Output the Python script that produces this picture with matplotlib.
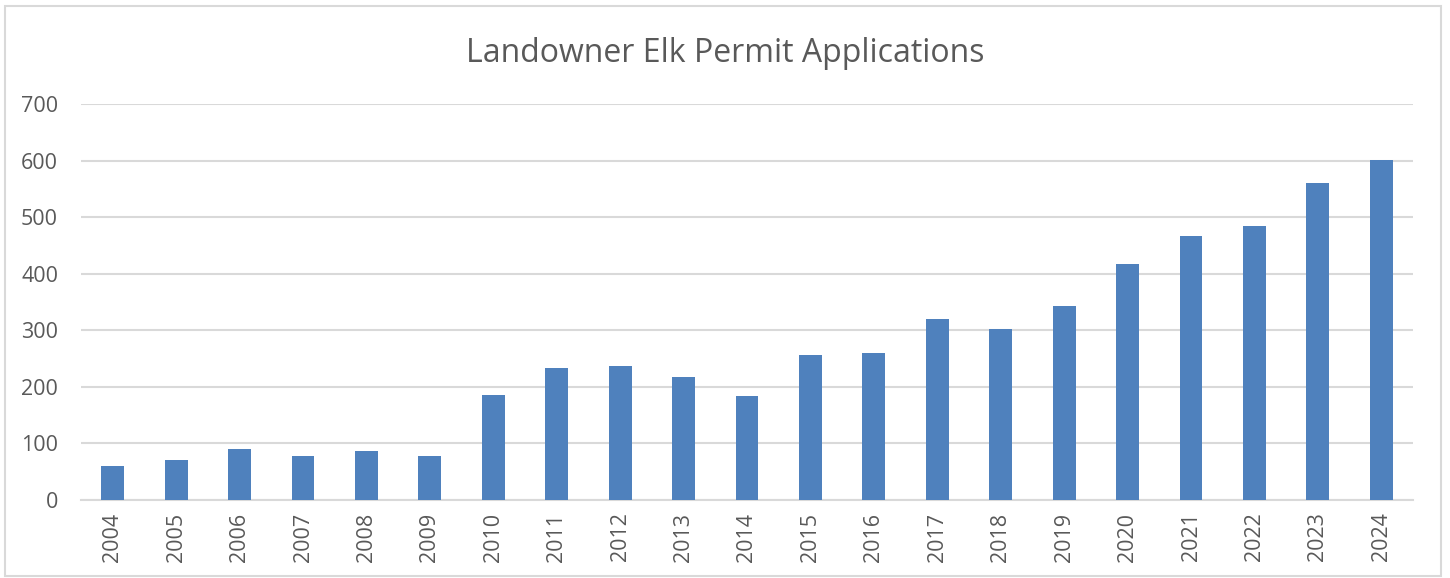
import matplotlib
matplotlib.use("Agg")
import matplotlib.pyplot as plt
from matplotlib.patches import Rectangle

plt.rcParams['font.family'] = ['Open Sans', 'DejaVu Sans']

years = [str(y) for y in range(2004, 2025)]
applications = [60, 71, 91, 78, 87, 78, 186, 233, 236, 218, 184,
                257, 260, 320, 302, 343, 418, 467, 485, 560, 601]

bar_color = '#4F81BD'
text_color = '#595959'
grid_color = '#D9D9D9'

fig = plt.figure(figsize=(14.5, 5.78), dpi=100)
ax = fig.add_axes([81 / 1450, 1 - 500 / 578, 1332 / 1450, 396 / 578])

x = range(len(years))
ax.bar(x, applications, width=0.36, color=bar_color, zorder=3)

ax.set_xlim(-0.5, len(years) - 0.5)
ax.set_ylim(0, 700)
ax.set_yticks(range(0, 701, 100))
ax.set_xticks(list(x))
ax.set_xticklabels(years, rotation=90)
ax.tick_params(axis='both', length=0, labelsize=15.5, labelcolor=text_color)
ax.tick_params(axis='y', pad=16.5)
ax.tick_params(axis='x', pad=9)

ax.grid(axis='y', color=grid_color, linewidth=1.5, zorder=0)
for side in ['top', 'right', 'left']:
    ax.spines[side].set_visible(False)
ax.spines['bottom'].set_color(grid_color)
ax.spines['bottom'].set_linewidth(1.5)

fig.text(0.5, 1 - 53 / 578, 'Landowner Elk Permit Applications',
         ha='center', va='center', fontsize=23, color=text_color)

# outer chart border
fig.patches.append(Rectangle((5 / 1450, 2 / 578), 1436 / 1450, 570 / 578,
                             transform=fig.transFigure, fill=False,
                             edgecolor=grid_color, linewidth=1.5))

fig.savefig('out.png', dpi=100)
